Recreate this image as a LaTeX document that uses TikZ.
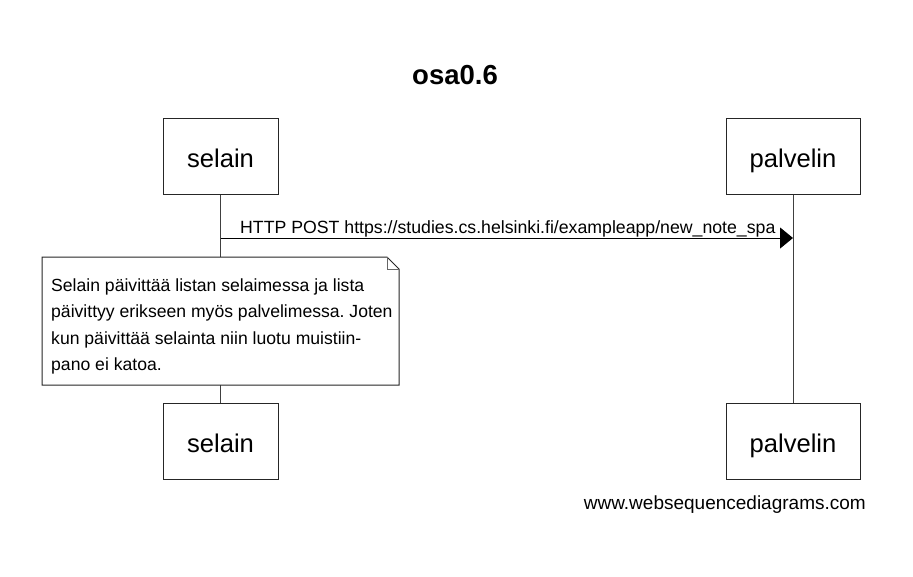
\documentclass[tikz,border=0pt]{standalone}
\usepackage{fontspec}
\setmainfont{Liberation Sans}
\frenchspacing
\usetikzlibrary{arrows.meta}
\begin{document}
\begin{tikzpicture}[x=1pt,y=-1pt,
  actor/.style={draw=black!85,line width=1pt,fill=white,minimum width=115pt,minimum height=76pt,inner sep=0pt,text height=22pt,text depth=0pt,font=\fontsize{25.6}{30}\selectfont},
  actorR/.style={actor,minimum width=134pt},
  life/.style={draw=black!75,line width=1pt},
  msg/.style={draw=black,line width=1pt,-{Triangle[length=13pt,width=21pt]}},
  lbl/.style={inner sep=0pt,font=\fontsize{17.7}{20}\selectfont},
  notetxt/.style={inner sep=0pt,anchor=base west,font=\fontsize{17.6}{20}\selectfont}]
\useasboundingbox (0,0) rectangle (913,576);
\node[inner sep=0pt,anchor=base,font=\fontsize{27.5}{30}\selectfont\bfseries] (title) at (455,84) {osa0.6};
\node[actor] (s1) at (220.5,156) {selain};
\node[actorR] (p1) at (793,156) {palvelin};
\node[actor] (s2) at (220.5,441) {selain};
\node[actorR] (p2) at (793,441) {palvelin};
\draw[life] (s1.south) -- (s2.north);
\draw[life] (p1.south) -- (p2.north);
\coordinate (a1) at (s1.south |- 0,238);
\coordinate (a2) at (p1.south |- 0,238);
\draw[msg] (a1) -- (a2);
\node[lbl,anchor=base west] (ml) at (240,233) {HTTP POST https://studies.cs.helsinki.fi/exampleapp/new\_note\_spa};
% note
\draw[draw=black!85,line width=1pt,fill=white] (42,257) -- (387,257) -- (399,269) -- (399,385) -- (42,385) -- cycle;
\draw[draw=black!60,line width=1pt] (387,257) -- (387,269) -- (399,269);
\node[notetxt] (n1) at (51,291) {Selain päivittää listan selaimessa ja lista};
\node[notetxt] (n2) at (51,317.5) {päivittyy erikseen myös palvelimessa. Joten};
\node[notetxt] (n3) at (51,344) {kun päivittää selainta niin luotu muistiin-};
\node[notetxt] (n4) at (51,370.5) {pano ei katoa.};
\node[inner sep=0pt,anchor=base east,font=\fontsize{19}{20}\selectfont] (foot) at (866,509) {www.websequencediagrams.com};
\end{tikzpicture}
\end{document}
